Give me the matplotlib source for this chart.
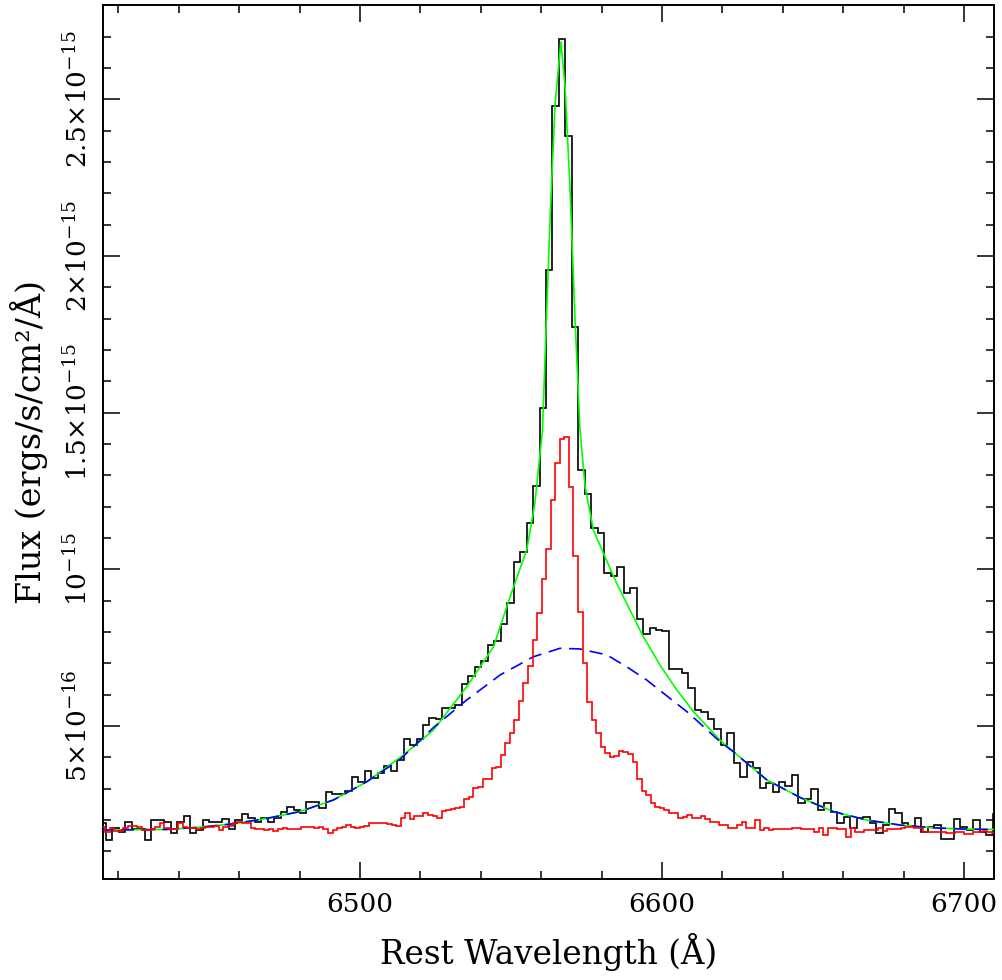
import numpy as np
import matplotlib
matplotlib.use("Agg")
import matplotlib.pyplot as plt
from matplotlib.ticker import MultipleLocator

# fluxes are in units of 1e-15 ergs/s/cm^2/A

# black spectrum (histogram), constant bin width
black_start = 6413.7
black_width = 2.143
black_flux = [
    0.190, 0.136, 0.174, 0.163, 0.193, 0.172, 0.170, 0.136, 0.200, 0.200,
    0.195, 0.158, 0.195, 0.214, 0.160, 0.168, 0.200, 0.195, 0.195, 0.202,
    0.170, 0.200, 0.219, 0.205, 0.195, 0.208, 0.195, 0.205, 0.227, 0.241,
    0.232, 0.223, 0.259, 0.259, 0.237, 0.288, 0.283, 0.283, 0.294, 0.338,
    0.322, 0.356, 0.333, 0.351, 0.372, 0.357, 0.391, 0.458, 0.438, 0.458,
    0.503, 0.526, 0.522, 0.557, 0.559, 0.567, 0.633, 0.660, 0.689, 0.708,
    0.758, 0.770, 0.825, 0.891, 1.023, 1.055, 1.149, 1.266, 1.514, 1.955,
    2.479, 2.694, 2.383, 1.774, 1.317, 1.240, 1.131, 1.117, 0.987, 0.980,
    1.008, 0.925, 0.939, 0.841, 0.793, 0.814, 0.806, 0.803, 0.682, 0.682,
    0.668, 0.622, 0.551, 0.546, 0.522, 0.490, 0.439, 0.477, 0.383, 0.338,
    0.384, 0.367, 0.303, 0.317, 0.290, 0.322, 0.310, 0.344, 0.253, 0.267,
    0.299, 0.232, 0.253, 0.227, 0.191, 0.211, 0.174, 0.208, 0.211, 0.191,
    0.158, 0.184, 0.235, 0.221, 0.189, 0.182, 0.207, 0.163, 0.178, 0.184,
    0.139, 0.139, 0.204, 0.178, 0.168, 0.200, 0.163, 0.152, 0.220,
]

# red spectrum (histogram), finer bins
red_start = 6414.14
red_width = 1.505
red_flux = [
    0.179, 0.163, 0.174, 0.166, 0.166, 0.174, 0.181, 0.181, 0.177, 0.168,
    0.168, 0.171, 0.179, 0.189, 0.174, 0.171, 0.170, 0.189, 0.179, 0.174,
    0.174, 0.170, 0.174, 0.177, 0.177, 0.181, 0.168, 0.177, 0.181, 0.191,
    0.195, 0.189, 0.189, 0.174, 0.170, 0.170, 0.168, 0.170, 0.166, 0.170,
    0.174, 0.170, 0.170, 0.172, 0.177, 0.179, 0.177, 0.174, 0.179, 0.170,
    0.160, 0.168, 0.174, 0.177, 0.184, 0.179, 0.174, 0.179, 0.181, 0.191,
    0.192, 0.191, 0.189, 0.187, 0.184, 0.181, 0.205, 0.221, 0.203, 0.214,
    0.214, 0.221, 0.216, 0.214, 0.205, 0.230, 0.232, 0.235, 0.238, 0.243,
    0.266, 0.274, 0.301, 0.306, 0.331, 0.331, 0.365, 0.370, 0.407, 0.445,
    0.477, 0.519, 0.580, 0.636, 0.691, 0.774, 0.862, 0.968, 1.064, 1.221,
    1.340, 1.415, 1.423, 1.264, 1.042, 0.865, 0.700, 0.578, 0.519, 0.479,
    0.434, 0.413, 0.400, 0.404, 0.420, 0.416, 0.410, 0.386, 0.330, 0.293,
    0.280, 0.253, 0.241, 0.238, 0.232, 0.221, 0.221, 0.205, 0.211, 0.216,
    0.205, 0.205, 0.212, 0.203, 0.195, 0.194, 0.184, 0.184, 0.173, 0.173,
    0.184, 0.195, 0.173, 0.173, 0.200, 0.168, 0.176, 0.168, 0.171, 0.171,
    0.171, 0.171, 0.173, 0.173, 0.171, 0.171, 0.171, 0.163, 0.173, 0.152,
    0.173, 0.173, 0.171, 0.171, 0.147, 0.173, 0.163, 0.163, 0.168, 0.168,
    0.168, 0.173, 0.165, 0.171, 0.171, 0.171, 0.173, 0.179, 0.179, 0.173,
    0.173, 0.163, 0.163, 0.161, 0.161, 0.161, 0.158, 0.158, 0.163, 0.163,
    0.155, 0.155, 0.163, 0.163, 0.165, 0.161, 0.158,
]

# total model (green)
green_wave = [6413.9, 6436.0, 6447.0, 6458.0, 6469.1, 6480.1, 6491.2, 6502.2,
              6514.3, 6524.3, 6535.3, 6544.2, 6549.7, 6555.2, 6557.9, 6559.6,
              6560.4, 6561.3, 6562.9, 6564.6, 6566.5, 6567.9, 6569.5, 6571.2,
              6572.8, 6574.5, 6577.3, 6580.6, 6585.0, 6589.4, 6593.8, 6599.3,
              6604.9, 6610.4, 6619.2, 6623.6, 6634.7, 6645.7, 6656.7, 6667.8,
              6678.8, 6689.8, 6700.9, 6709.7]
green_flux = [0.168, 0.170, 0.177, 0.188, 0.205, 0.227, 0.264, 0.322,
              0.407, 0.487, 0.625, 0.753, 0.913, 1.062, 1.211, 1.370,
              1.440, 1.689, 2.115, 2.487, 2.683, 2.540, 2.221, 1.795,
              1.450, 1.264, 1.125, 1.051, 0.955, 0.870, 0.785, 0.695,
              0.615, 0.546, 0.455, 0.418, 0.328, 0.272, 0.227, 0.200,
              0.184, 0.175, 0.171, 0.170]

# broad component (blue dashed)
blue_wave = [6413.9, 6436.0, 6447.0, 6458.0, 6469.1, 6480.1, 6491.2, 6502.2,
             6513.2, 6524.3, 6535.3, 6546.4, 6557.4, 6566.2, 6572.8, 6581.7,
             6588.3, 6594.9, 6601.6, 6608.2, 6612.6, 6619.2, 6623.6, 6634.7,
             6645.7, 6656.7, 6667.8, 6678.8, 6689.8, 6700.9, 6709.7]
blue_flux = [0.168, 0.170, 0.177, 0.188, 0.205, 0.227, 0.264, 0.322,
             0.393, 0.495, 0.583, 0.663, 0.721, 0.748, 0.746, 0.727,
             0.689, 0.647, 0.596, 0.546, 0.508, 0.450, 0.418, 0.328,
             0.272, 0.227, 0.200, 0.184, 0.175, 0.171, 0.170]

ytick_vals = [0.5, 1.0, 1.5, 2.0, 2.5]
ytick_labels = [r"$5{\times}10^{-16}$", r"$10^{-15}$", r"$1.5{\times}10^{-15}$",
                r"$2{\times}10^{-15}$", r"$2.5{\times}10^{-15}$"]
xtick_vals = [6500, 6600, 6700]

plt.rcParams['font.family'] = ['DejaVu Serif']
plt.rcParams['mathtext.fontset'] = 'dejavuserif'
plt.rcParams['lines.scale_dashes'] = False

fig = plt.figure(figsize=(10.03, 9.8), dpi=100)
ax = fig.add_axes([0.103, 0.1028, 0.888, 0.8918])

black_edges = black_start + black_width * np.arange(len(black_flux) + 1)
red_edges = red_start + red_width * np.arange(len(red_flux) + 1)

ax.stairs(black_flux, black_edges, baseline=None, color='black', lw=1.2, zorder=2)
ax.plot(green_wave, green_flux, color='#00ff00', lw=1.2, zorder=3)
ax.plot(blue_wave, blue_flux, color='#0000ff', lw=1.2, dashes=(9.5, 5.5), zorder=4)
ax.stairs(red_flux, red_edges, baseline=None, color='#ff0000', lw=1.2, zorder=5)

ax.set_xlim(6415.0, 6709.9)
ax.set_ylim(0.011, 2.80)

ax.set_xticks(xtick_vals)
ax.xaxis.set_minor_locator(MultipleLocator(20))
ax.set_yticks(ytick_vals, labels=ytick_labels)
ax.yaxis.set_minor_locator(MultipleLocator(0.1))

ax.tick_params(which='both', direction='in', top=True, right=True, width=1.1)
ax.tick_params(which='major', length=12)
ax.tick_params(which='minor', length=6)
ax.tick_params(axis='x', labelsize=19, pad=9)
ax.tick_params(axis='y', labelsize=19, pad=8)
for lab in ax.get_yticklabels():
    lab.set_rotation(90)
    lab.set_verticalalignment('center')

for sp in ax.spines.values():
    sp.set_linewidth(1.4)

ax.set_xlabel("Rest Wavelength (Å)", fontsize=23.5)
ax.set_ylabel("Flux (ergs/s/cm²/Å)", fontsize=24)
ax.xaxis.set_label_coords(0.5, -0.062)
ax.yaxis.set_label_coords(-0.062, 0.5)

fig.savefig("out.png", dpi=100)
